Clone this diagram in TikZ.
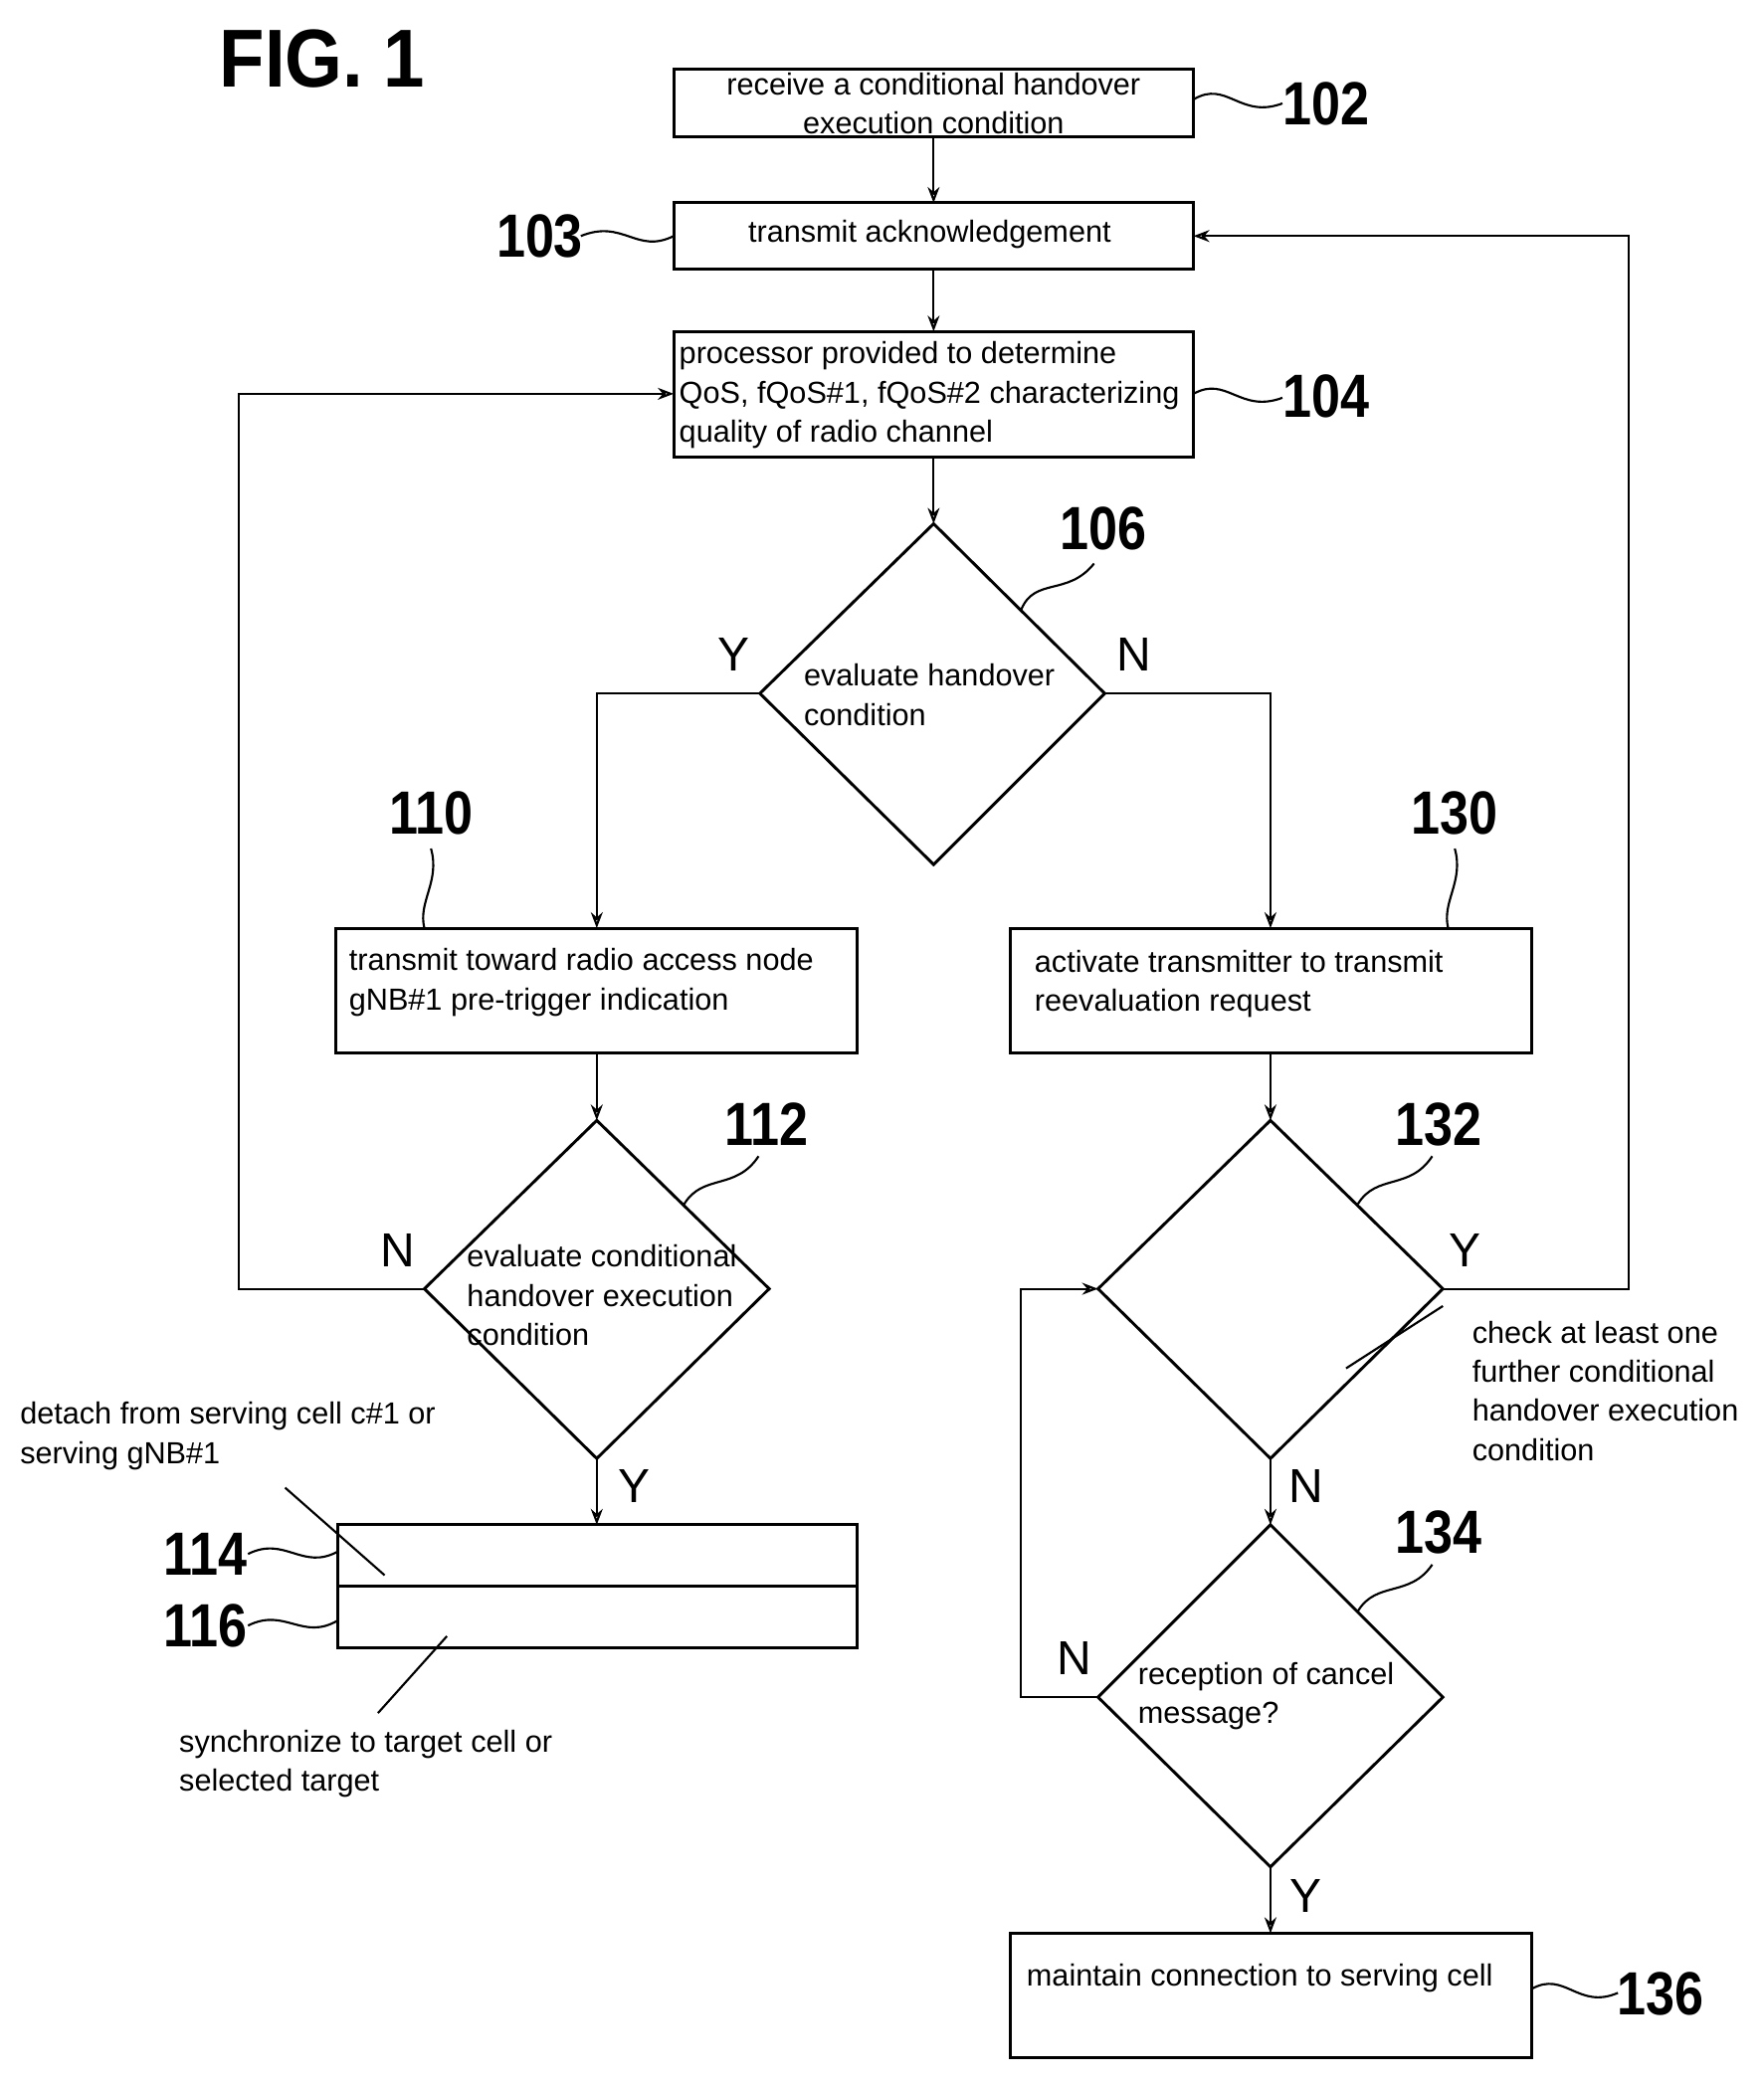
\documentclass[tikz,border=0pt]{standalone}
\usepackage{fontspec}
\setmainfont{Liberation Sans}
\usetikzlibrary{arrows.meta,shapes.geometric}
\begin{document}
\begin{tikzpicture}[x=1pt,y=-1pt,
  box/.style={draw,line width=2.2pt,inner sep=0pt},
  dia/.style={draw,line width=2.2pt},
  txt/.style={font=\fontsize{23}{29.5}\selectfont,align=left,inner sep=0pt},
  lbl/.style={font=\bfseries\fontsize{46}{46}\selectfont,inner sep=0pt,xscale=0.85},
  yn/.style={font=\fontsize{36}{36}\selectfont,inner sep=0pt},
  con/.style={line width=1.6pt,-{Stealth[length=12pt,width=9pt,open]}},
  ln/.style={line width=1.6pt},
  sq/.style={line width=1.6pt}]
\useasboundingbox (0,0) rectangle (1330,1571);
\node[font=\bfseries\fontsize{62}{62}\selectfont,xscale=0.9] (fig) at (243,44) {FIG. 1};
% boxes
\draw[box] (508,52) rectangle (900,103);
\node[txt,align=center] (t102) at (704,78) {receive a conditional handover\\execution condition};
\draw[box] (508,153) rectangle (900,203);
\node[txt] (t103) at (701,177) {transmit acknowledgement};
\draw[box] (508,250) rectangle (900,345);
\node[txt,anchor=west] (t104) at (512,298) {processor provided to determine\\QoS, fQoS\#1, fQoS\#2 characterizing\\quality of radio channel};
\draw[box] (253,700) rectangle (646,794);
\node[txt,anchor=west] (t110) at (263,741) {transmit toward radio access node\\gNB\#1 pre-trigger indication};
\draw[box] (762,700) rectangle (1155,794);
\node[txt,anchor=west] (t130) at (780,742) {activate transmitter to transmit\\reevaluation request};
\draw[box] (255,1150) rectangle (646,1196);
\draw[box] (255,1196) rectangle (646,1243);
\draw[box] (762,1458) rectangle (1155,1552);
\node[txt,anchor=west] (t136) at (774,1492) {maintain connection to serving cell};
% diamonds
\draw[dia] (704,395) -- (833,523) -- (704,652) -- (573,523) -- cycle;
\node[txt] (t106) at (606,524) [anchor=west] {evaluate handover\\condition};
\draw[dia] (450,845) -- (580,972) -- (450,1100) -- (320,972) -- cycle;
\node[txt,anchor=west] (t112) at (352,977) {evaluate conditional\\handover execution\\condition};
\draw[dia] (958,845) -- (1088,972) -- (958,1100) -- (828,972) -- cycle;
\draw[dia] (958,1150) -- (1088,1280) -- (958,1408) -- (828,1280) -- cycle;
\node[txt,anchor=west] (t134) at (858,1279) {reception of cancel\\message?};
\node[txt,anchor=west] (t132) at (1110,1049) {check at least one\\further conditional\\handover execution\\condition};
% connectors
\draw[con] (704,103) -- (704,153);
\draw[con] (704,203) -- (704,250);
\draw[con] (704,345) -- (704,395);
\draw[con] (573,523) -- (450,523) -- (450,700);
\draw[con] (833,523) -- (958,523) -- (958,700);
\draw[con] (450,794) -- (450,845);
\draw[con] (958,794) -- (958,845);
\draw[con] (320,972) -- (180,972) -- (180,297) -- (508,297);
\draw[con] (450,1100) -- (450,1150);
\draw[con] (1088,972) -- (1228,972) -- (1228,178) -- (900,178);
\draw[con] (958,1100) -- (958,1150);
\draw[con] (828,1280) -- (770,1280) -- (770,972) -- (828,972);
\draw[con] (958,1408) -- (958,1458);
% Y/N
\node[yn] (y106) at (553,494) {Y}; \node[yn] (n106) at (855,494) {N};
\node[yn] (n112) at (300,943) {N}; \node[yn] (y112) at (478,1121) {Y};
\node[yn] (y132) at (1105,943) {Y}; \node[yn] (n132) at (985,1121) {N};
\node[yn] (n134) at (810,1251) {N}; \node[yn] (y134) at (985,1430) {Y};
% labels with squiggles
\node[lbl] (l102) at (1000,78) {102};
\draw[sq] (900,75) .. controls (925,60) and (935,90) .. (967,78);
\node[lbl] (l103) at (407,178) {103};
\draw[sq] (438,178) .. controls (470,165) and (480,192) .. (508,178);
\node[lbl] (l104) at (1000,299) {104};
\draw[sq] (900,297) .. controls (925,283) and (935,312) .. (967,300);
\node[lbl] (l136) at (1252,1504) {136};
\draw[sq] (1155,1500) .. controls (1180,1486) and (1190,1516) .. (1220,1503);
\node[lbl] (l114) at (155,1172) {114};
\draw[sq] (187,1172) .. controls (215,1158) and (228,1185) .. (255,1170);
\node[lbl] (l116) at (155,1226) {116};
\draw[sq] (187,1226) .. controls (215,1212) and (228,1238) .. (255,1222);
\node[lbl] (l106) at (832,399) {106};
\draw[sq] (770,460) .. controls (780,435) and (805,450) .. (825,425);
\node[lbl] (l110) at (325,613) {110};
\draw[sq] (320,700) .. controls (315,680) and (332,665) .. (325,640);
\node[lbl] (l130) at (1097,613) {130};
\draw[sq] (1092,700) .. controls (1087,680) and (1104,665) .. (1097,640);
\node[lbl] (l112) at (578,848) {112};
\draw[sq] (516,908) .. controls (530,885) and (555,898) .. (572,872);
\node[lbl] (l132) at (1085,848) {132};
\draw[sq] (1024,908) .. controls (1038,885) and (1063,898) .. (1080,872);
\node[lbl] (l134) at (1085,1156) {134};
\draw[sq] (1024,1215) .. controls (1038,1192) and (1063,1205) .. (1080,1180);
% side texts
\node[txt,anchor=west] (d114) at (15,1083) {detach from serving cell c\#1 or\\serving gNB\#1};
\draw[ln] (215,1122) -- (290,1188);
\node[txt,anchor=west] (d116) at (135,1330) {synchronize to target cell or\\selected target};
\draw[ln] (285,1292) -- (337,1234);
\draw[ln] (1015,1032) -- (1088,985);
\end{tikzpicture}
\end{document}
